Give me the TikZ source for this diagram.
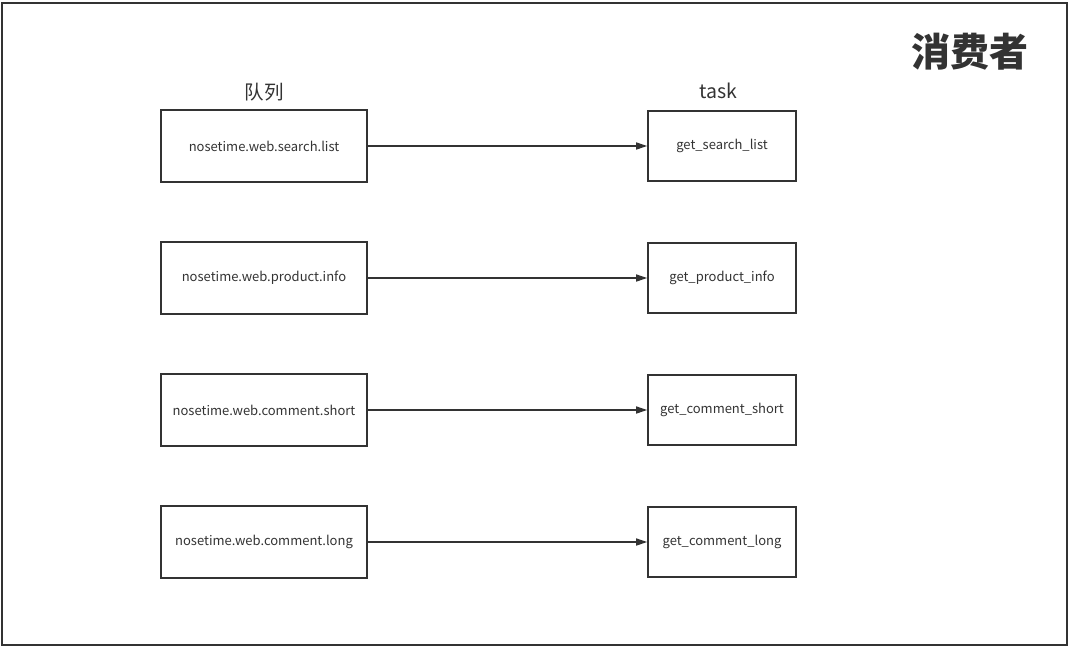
\documentclass[tikz,border=0pt]{standalone}
\usepackage{fontspec}
\setmainfont{Noto Sans CJK SC}
\usetikzlibrary{arrows.meta}
\definecolor{ink}{HTML}{333333}
\begin{document}
\begin{tikzpicture}[x=1pt,y=-1pt,
  qbox/.style={draw=ink,line width=1.6pt,minimum width=206pt,minimum height=72pt,inner sep=0pt,font=\fontsize{13}{15}\selectfont,text=ink},
  tbox/.style={draw=ink,line width=1.6pt,minimum width=148pt,minimum height=70pt,inner sep=0pt,font=\fontsize{13}{15}\selectfont,text=ink},
  conn/.style={draw=ink,line width=1.4pt,-{Triangle[length=11pt,width=7pt]}},
  hdr/.style={text=ink,font=\fontsize{19.5}{22}\selectfont,inner sep=0pt}]
\useasboundingbox (0,0) rectangle (1070,648);
\draw[ink,line width=1.8pt] (2,3) rectangle (1067,645);
\node[text=ink,font=\fontsize{39}{44}\selectfont\bfseries,inner sep=0pt] (title) at (970,52) {消费者};
\node[hdr] (qh) at (264,92) {队列};
\node[hdr] (th) at (718,91) {task};
\node[qbox] (q1) at (264,146) {nosetime.web.search.list};
\node[qbox] (q2) at (264,278) {nosetime.web.product.info};
\node[qbox] (q3) at (264,410) {nosetime.web.comment.short};
\node[qbox] (q4) at (264,542) {nosetime.web.comment.long};
\node[tbox] (t1) at (722,146) {get\_search\_list};
\node[tbox] (t2) at (722,278) {get\_product\_info};
\node[tbox] (t3) at (722,410) {get\_comment\_short};
\node[tbox] (t4) at (722,542) {get\_comment\_long};
\draw[conn] (q1) -- (t1);
\draw[conn] (q2) -- (t2);
\draw[conn] (q3) -- (t3);
\draw[conn] (q4) -- (t4);
\end{tikzpicture}
\end{document}
